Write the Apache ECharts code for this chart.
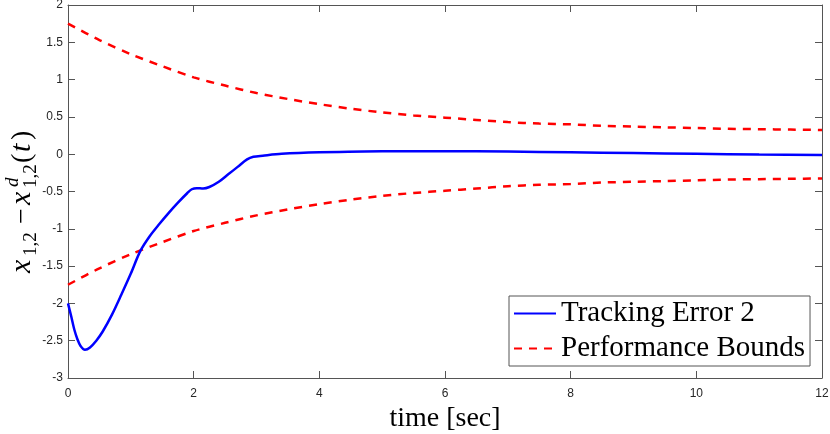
<!DOCTYPE html>
<html lang="en">
<head>
    <meta charset="UTF-8">
    <title>Tracking Error 2</title>
    <script src="https://cdn.jsdelivr.net/npm/echarts@6.0.0/dist/echarts.min.js"></script>
    <style>
        html, body { margin: 0; padding: 0; background: #fff; }
    </style>
</head>
<body>
<div id="main" style="width: 830px;height:434px;"></div>
<script type="text/javascript">
    // tracking error
    var errTime = [0, 0.05, 0.1, 0.15, 0.2, 0.27, 0.35, 0.45, 0.55, 0.7, 0.85, 1.0, 1.15, 1.3, 1.45, 1.6, 1.75, 1.9, 1.97,
        2.05, 2.15, 2.25, 2.4, 2.55, 2.7, 2.85, 2.95, 3.1, 3.4, 4, 5, 6, 7, 8, 9, 10, 11, 12];
    var errValue = [-2.00, -2.17, -2.35, -2.48, -2.57, -2.62, -2.59, -2.50, -2.38, -2.15, -1.88, -1.60, -1.30, -1.10, -0.94,
        -0.79, -0.65, -0.52, -0.47, -0.455, -0.46, -0.44, -0.37, -0.27, -0.17, -0.07, -0.035, -0.02, 0.005, 0.025, 0.04,
        0.04, 0.035, 0.025, 0.015, 0.005, -0.005, -0.012];

    // performance bounds
    var boundTime = [0, 0.5, 1, 1.5, 2, 2.5, 3, 3.5, 4, 4.5, 5, 5.5, 6, 6.5, 7, 7.5, 8, 8.5, 9, 9.5, 10, 10.5, 11, 11.5, 12];
    var upperBound = [1.75, 1.53, 1.34, 1.18, 1.03, 0.92, 0.82, 0.74, 0.67, 0.61, 0.56, 0.52, 0.49, 0.46, 0.43, 0.41,
        0.40, 0.38, 0.37, 0.36, 0.35, 0.34, 0.335, 0.33, 0.325];
    var lowerBound = [-1.75, -1.53, -1.34, -1.18, -1.03, -0.92, -0.82, -0.74, -0.67, -0.61, -0.56, -0.52, -0.49, -0.46,
        -0.43, -0.41, -0.40, -0.38, -0.37, -0.36, -0.35, -0.34, -0.335, -0.33, -0.325];

    var seriesNames = ["Tracking Error 2", "Performance Bounds"];

    function pairs(xs, ys) {
        return xs.map(function (x, i) {
            return [x, ys[i]];
        });
    }

    var axisColor = "#555555";
    var serif = "'Liberation Serif', 'DejaVu Serif', serif";

    function boxAxis(pos, min, max, interval, showLabel) {
        return {
            type: "value",
            position: pos,
            min: min,
            max: max,
            interval: interval,
            axisLine: {show: true, onZero: false, lineStyle: {color: axisColor, width: 1}},
            axisTick: {show: true, inside: true, length: 7, lineStyle: {color: axisColor}},
            axisLabel: {
                show: showLabel,
                color: "#262626",
                fontFamily: "'Liberation Sans', Arial, sans-serif",
                fontSize: 12,
                margin: pos === "bottom" ? 10 : 5
            },
            splitLine: {show: false}
        };
    }

    var xBottom = boxAxis("bottom", 0, 12, 2, true);
    xBottom.name = "time [sec]";
    xBottom.nameLocation = "middle";
    xBottom.nameGap = 26;
    xBottom.nameTextStyle = {fontFamily: serif, fontSize: 28, color: "#000"};

    // y label: x_{1,2} - x^d_{1,2}(t), drawn rotated
    var yLabelParts = [
        {text: "x", x: 0, y: -9, size: 30, italic: true},
        {text: "1,2", x: 17, y: 0.3, size: 19},
        {text: "\u2212", x: 49, y: -8.4, size: 28},
        {text: "x", x: 68, y: -9, size: 30, italic: true},
        {text: "d", x: 86, y: -18, size: 19, italic: true},
        {text: "1,2", x: 85, y: 0.3, size: 19},
        {text: "(", x: 110, y: -8.4, size: 28},
        {text: "t", x: 121, y: -9, size: 30, italic: true},
        {text: ")", x: 133, y: -8.4, size: 28}
    ];

    var myChart = echarts.init(document.getElementById("main"));
    myChart.setOption({
        animation: false,
        backgroundColor: "#fff",
        grid: {left: 68, right: 8, top: 5, bottom: 56, outerBoundsMode: "none"},
        legend: {
            orient: "vertical",
            left: 509,
            top: 296,
            padding: [3, 5, 3, 4],
            itemGap: 6,
            itemWidth: 42,
            itemHeight: 14,
            itemStyle: {opacity: 0},
            backgroundColor: "#fff",
            borderColor: axisColor,
            borderWidth: 1,
            borderRadius: 0,
            textStyle: {fontFamily: serif, fontSize: 29, color: "#000"},
            data: seriesNames
        },
        xAxis: [xBottom, boxAxis("top", 0, 12, 2, false)],
        yAxis: [boxAxis("left", -3, 2, 0.5, true), boxAxis("right", -3, 2, 0.5, false)],
        graphic: [{
            type: "group",
            x: 31,
            y: 273,
            rotation: Math.PI / 2,
            children: yLabelParts.map(function (p) {
                return {
                    type: "text",
                    x: p.x,
                    y: p.y,
                    style: {
                        text: p.text,
                        fill: "#000",
                        font: (p.italic ? "italic " : "") + p.size + "px " + serif,
                        align: "left",
                        verticalAlign: "middle"
                    }
                };
            })
        }],
        series: [
            {
                name: seriesNames[0],
                type: "line",
                symbol: "none",
                smooth: 0.3,
                data: pairs(errTime, errValue),
                lineStyle: {color: "#0000ff", width: 2.5},
                itemStyle: {color: "#0000ff"},
                z: 3
            },
            {
                name: seriesNames[1],
                type: "line",
                symbol: "none",
                smooth: 0.3,
                data: pairs(boundTime, upperBound),
                lineStyle: {color: "#ff0000", width: 2.5, type: [8, 7]},
                itemStyle: {color: "#ff0000"},
                z: 2
            },
            {
                name: seriesNames[1],
                type: "line",
                symbol: "none",
                smooth: 0.3,
                data: pairs(boundTime, lowerBound),
                lineStyle: {color: "#ff0000", width: 2.5, type: [8, 7]},
                itemStyle: {color: "#ff0000"},
                z: 2
            }
        ]
    });
</script>
</body>
</html>
